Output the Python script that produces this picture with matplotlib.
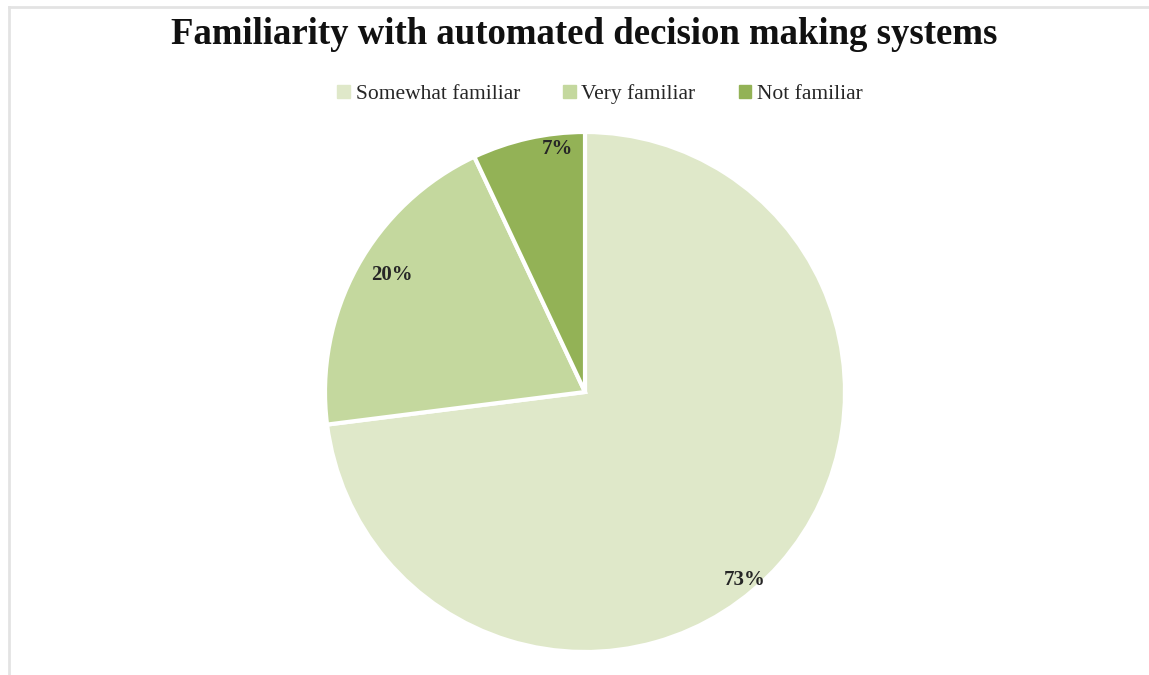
import numpy as np
import matplotlib.pyplot as plt
from matplotlib.lines import Line2D

# data
labels = ["Somewhat familiar", "Very familiar", "Not familiar"]
shares = [73, 20, 7]
colors = ["#dfe8c9", "#c4d89e", "#93b256"]
title = "Familiarity with automated decision making systems"

W, H = 1149, 675
fig = plt.figure(figsize=(W / 100, H / 100), dpi=100)
plt.rcParams["font.family"] = ["Liberation Serif", "DejaVu Serif"]

# pie axes: centre (585, 392) px, radius 260 px
cx, cy, r = 585, 392, 260
ax = fig.add_axes([(cx - r) / W, (H - cy - r) / H, 2 * r / W, 2 * r / H])
wedges, texts, autotexts = ax.pie(
    shares, colors=colors, startangle=90, counterclock=False,
    autopct="%d%%", pctdistance=0.9,
    wedgeprops=dict(edgecolor="white", linewidth=3),
    textprops=dict(fontsize=15, fontweight="bold", color="#262626"),
)
ax.set_xlim(-1, 1)
ax.set_ylim(-1, 1)
ax.set_aspect("equal")

# nudge labels to where the original places them (angle deg, radius)
label_pos = [(-49.6, 0.95), (148.8, 0.87), (96.4, 0.94)]
for t, (a, d) in zip(autotexts, label_pos):
    t.set_position((d * np.cos(np.radians(a)), d * np.sin(np.radians(a))))

fig.text(584 / W, 1 - 34 / H, title, ha="center", va="center",
         fontsize=26.5, fontweight="bold", color="#111111")

handles = [plt.Rectangle((0, 0), 1, 1, color=c) for c in colors]
fig.legend(handles, labels, loc="center", bbox_to_anchor=(600 / W, 1 - 94 / H),
           ncol=3, frameon=False, fontsize=15.5, handlelength=0.6, handleheight=0.6,
           handletextpad=0.25, columnspacing=2.0, labelcolor="#262626")

# thin grey frame on the top and left edges
fig.add_artist(Line2D([9 / W, 9 / W], [0, 1 - 7 / H], color="#e3e3e3", lw=2))
fig.add_artist(Line2D([9 / W, 1], [1 - 7 / H, 1 - 7 / H], color="#e3e3e3", lw=2))

fig.savefig("out.png", dpi=100)
